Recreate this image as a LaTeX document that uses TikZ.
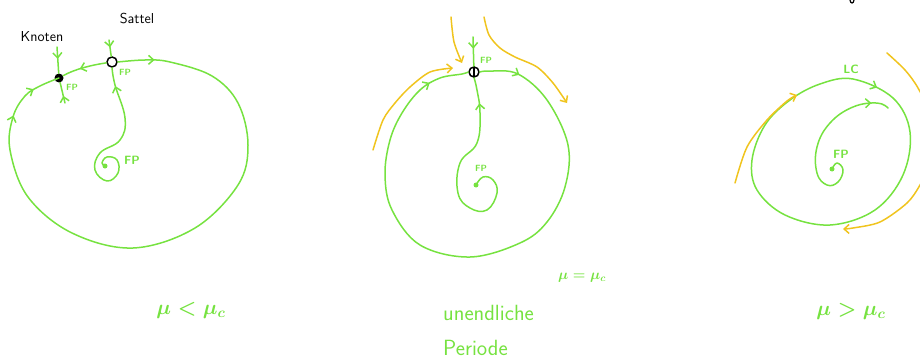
\documentclass[tikz,border=0pt]{standalone}
\usetikzlibrary{decorations.markings,arrows.meta}
\definecolor{pen}{RGB}{118,226,64}
\definecolor{amber}{RGB}{240,196,30}
\tikzset{
  traj/.style={color=pen,line width=1.5pt,line cap=round,line join=round},
  flow/.style={color=amber,line width=1.5pt,line cap=round,line join=round},
  barb/.style={-{Straight Barb[length=5pt,width=9pt]}},
  midarrow/.style={postaction={decorate,decoration={markings,
      mark=at position #1 with {\arrow{Straight Barb[length=5pt,width=9pt]}}}}},
  knot/.style={circle,fill=black,inner sep=0pt,minimum size=9pt},
  saddle/.style={circle,draw=black,line width=1.5pt,inner sep=0pt,minimum size=10pt},
  fixp/.style={circle,fill=pen,inner sep=0pt,minimum size=5pt},
  fplabel/.style={text=pen,font=\sffamily\bfseries\small,inner sep=1pt},
  biglabel/.style={text=pen,font=\sffamily\bfseries\large,inner sep=1pt},
  mulabel/.style={text=pen,font=\huge\boldmath,inner sep=1pt},
  wordlabel/.style={text=pen,font=\sffamily\fontsize{22}{26}\selectfont,inner sep=0pt,anchor=west},
  namelabel/.style={text=black,font=\sffamily\Large,inner sep=1pt}
}
\begin{document}
\begin{tikzpicture}[x=1pt,y=-1pt]
\useasboundingbox (0,0) rectangle (920,361);
\clip (0,0) rectangle (920,361);

% ---------------- panel 1 ----------------
\node[knot] (knoten) at (59,78) {};
\node[saddle] (sattel) at (112,62) {};
\node[fixp] (fp1) at (105,166) {};
\node[namelabel] (lk) at (42,37) {Knoten};
\node[namelabel] (ls) at (137,19) {Sattel};
\node[fplabel] (fpk) at (72,87) {FP};
\node[fplabel] (fps) at (125,72) {FP};
\node[biglabel] (fpc1) at (132,160) {FP};
\coordinate (kt) at (57,47);
\coordinate (kb) at (65,103);
\coordinate (st) at (109,40);
\draw[traj,midarrow=0.45] (kt) -- (knoten);
\draw[traj,midarrow=0.35] (kb) -- (knoten);
\draw[traj,midarrow=0.45] (st) -- (sattel);
\draw[traj,midarrow=0.6] (sattel) .. controls (92,65) and (75,69) .. (knoten);
\draw[traj,midarrow=0.9] plot[smooth,tension=0.7] coordinates {(fp1) (102,163) (107,157) (117,160) (118,173) (107,181) (95,170) (100,153) (120,140) (125,118) (115,85) (sattel.south)};
\draw[traj,midarrow=0.06,midarrow=0.9,midarrow=0.955] plot[smooth,tension=0.6] coordinates {(sattel.east) (145,60) (170,62) (212,76) (238,103) (248,145) (238,185) (195,228) (133,248) (72,233) (28,197) (10,150) (13,117) (25,96) (40,86) (knoten)};
\node[mulabel] (mu1) at (191,310) {$\mu<\mu_c$};

% ---------------- panel 2 ----------------
\node[saddle] (sn) at (474,72) {};
\draw[black,line width=1.5pt] (sn.north) -- (sn.south);
\node[fixp] (fp2) at (476,185) {};
\node[fplabel] (fpsn) at (486,60) {FP};
\node[fplabel] (fpc2) at (481,168) {FP};
\coordinate (snt) at (473,37);
\draw[traj,midarrow=0.4] (snt) -- (sn);
\draw[traj,midarrow=0.88] plot[smooth,tension=0.7] coordinates {(fp2) (483,177) (493,180) (497,193) (487,210) (470,208) (458,193) (460,163) (477,143) (480,113) (477,90) (sn.south)};
\draw[traj,midarrow=0.07,midarrow=0.93] plot[smooth,tension=0.6] coordinates {(sn.east) (490,71) (518,74) (547,100) (568,145) (565,187) (547,222) (520,243) (470,257) (420,245) (392,210) (385,175) (390,140) (402,113) (420,90) (440,78) (462,74) (sn.west)};
\draw[flow,barb] plot[smooth] coordinates {(451,17) (454,42) (462,63)};
\draw[flow,barb] plot[smooth] coordinates {(484,17) (489,35) (500,48) (515,57) (537,67) (553,83) (567,103)};
\draw[flow,barb] plot[smooth] coordinates {(373,150) (383,120) (395,103) (410,87) (430,72) (453,68)};
\node[mulabel,font=\Large\boldmath] (mu2) at (582,278) {$\mu=\mu_c$};
\node[wordlabel] (w1) at (443,313) {unendliche};
\node[wordlabel] (w2) at (443,348) {Periode};

% ---------------- panel 3 ----------------
\node[fixp] (fp3) at (832,169) {};
\node[biglabel] (fpc3) at (841,154) {FP};
\node[biglabel] (lc) at (851,69) {LC};
\draw[traj,midarrow=0.96] plot[smooth cycle,tension=0.6] coordinates {(853,79) (893,98) (910,132) (903,175) (875,210) (830,225) (785,215) (757,190) (752,160) (765,125) (790,100) (820,84)};
\draw[traj,midarrow=0.9] plot[smooth,tension=0.7] coordinates {(fp3) (837,163) (843,170) (838,182) (827,185) (817,173) (817,147) (830,123) (853,107) (877,103) (888,108)};
\draw[flow,barb] plot[smooth] coordinates {(735,183) (747,147) (767,120) (787,101) (797,95)};
\draw[flow,barb] plot[smooth] coordinates {(887,53) (905,70) (918,88) (930,115) (932,160) (920,185) (907,203) (880,222) (853,228) (843,229)};
\draw[black,line width=1.2pt,line cap=round] (850,0) .. controls (850.5,4) and (853.5,4) .. (854,0);
\node[mulabel] (mu3) at (851,311) {$\mu>\mu_c$};
\end{tikzpicture}
\end{document}
